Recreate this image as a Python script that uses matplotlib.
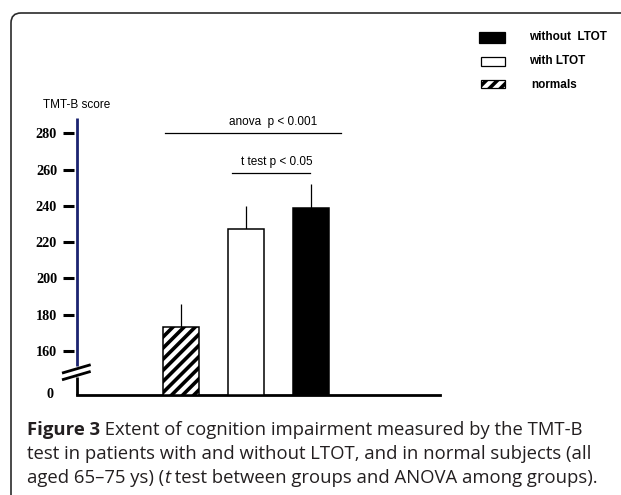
import matplotlib
matplotlib.use("Agg")
import matplotlib.pyplot as plt
from matplotlib.patches import Rectangle, FancyBboxPatch
from matplotlib.transforms import ScaledTranslation

W, H = 621, 495
DPI = 100

# --- data -------------------------------------------------------------
groups = ["normals", "with LTOT", "without LTOT"]
means = [173, 227, 239]
sd_up = [13, 13, 13]
bar_faces = ["white", "white", "black"]
bar_hatches = ["///", None, None]

yticks = [160, 180, 200, 220, 240, 260, 280]
y_low, y_high = 135.6, 288.5      # visible part of the broken axis
break_low, break_high = 145.5, 151.5

anova_label = "anova  p < 0.001"
anova_level = 280.3
ttest_label = "t test p < 0.05"
ttest_level = 258.2

legend_order = ["without  LTOT", "with LTOT", "normals"]

caption_lines = [
    [("Figure 3", "bold", "normal"),
     (" Extent of cognition impairment measured by the TMT-B", "normal", "normal")],
    [("test in patients with and without LTOT, and in normal subjects (all", "normal", "normal")],
    [("aged 65\u201375 ys) (", "normal", "normal"), ("t", "normal", "italic"),
     (" test between groups and ANOVA among groups).", "normal", "normal")],
]

# --- helpers ----------------------------------------------------------
def fx(px):
    return px / W

def fy(py):
    return 1 - py / H

plt.rcParams["hatch.linewidth"] = 2.6
plt.rcParams["hatch.color"] = "black"

fig = plt.figure(figsize=(W / DPI, H / DPI), dpi=DPI)
fig.patch.set_facecolor("white")

# rounded frame around the panel
frame = FancyBboxPatch((fx(11), fy(H + 20)), fx(W + 40 - 11), fy(13) - fy(H + 20),
                       boxstyle="round,pad=0,rounding_size=0.016",
                       transform=fig.transFigure, fill=False,
                       edgecolor="#2b2b2b", linewidth=1.2, mutation_aspect=W / H)
fig.add_artist(frame)

# --- axes -------------------------------------------------------------
ax_l, ax_r, ax_b, ax_t = 74, 440, 395, 118
ax = fig.add_axes([fx(ax_l), fy(ax_b), fx(ax_r - ax_l), fy(ax_t) - fy(ax_b)])
ax.set_facecolor("none")

px_per_unit = 65.0
x_center0 = 181
xmin = (ax_l - x_center0) / px_per_unit
xmax = (ax_r - x_center0) / px_per_unit
ax.set_xlim(xmin, xmax)
ax.set_ylim(y_low, y_high)
spine_x = (77 - x_center0) / px_per_unit

xpos = list(range(len(groups)))
for i in xpos:
    ax.bar(xpos[i], means[i] - y_low, bottom=y_low, width=0.555,
           facecolor=bar_faces[i], edgecolor="black", linewidth=1.1,
           hatch=bar_hatches[i], zorder=3)
ax.errorbar(xpos, means, yerr=[[0] * len(means), sd_up], fmt="none",
            ecolor="black", elinewidth=0.9, capsize=0, zorder=2)

# axis lines: blue upper part, black lower part after the break
ax.plot([spine_x, spine_x], [break_high, y_high], color="#1b2370", lw=2.0,
        clip_on=False, solid_capstyle="butt", zorder=4)
ax.plot([spine_x, spine_x], [y_low, break_low], color="black", lw=2.0,
        clip_on=False, solid_capstyle="butt", zorder=4)
for dy in (0.0, -3.7):
    ax.plot([spine_x - 0.21, spine_x + 0.19], [147.9 + dy, 152.1 + dy],
            color="black", lw=2.0, clip_on=False, zorder=5)

for s in ("left", "top", "right"):
    ax.spines[s].set_visible(False)
ax.spines["bottom"].set_bounds(spine_x, xmax)
ax.spines["bottom"].set_linewidth(2.0)
ax.set_xticks([])

ax.set_yticks([y_low] + yticks)
ax.set_yticklabels(["0"] + [str(v) for v in yticks],
                   fontfamily="Liberation Serif", fontweight="bold", fontsize=10.2)
ax.tick_params(axis="y", length=8.2, width=2.2, pad=4, color="black")
zero_tick = ax.yaxis.get_major_ticks()[0]
zero_tick.tick1line.set_visible(False)
zero_tick.label1.set_transform(zero_tick.label1.get_transform()
                               + ScaledTranslation(-0.04, 0.02, fig.dpi_scale_trans))

# significance brackets
ax.plot([-0.246, 2.46], [anova_level, anova_level], color="black", lw=0.9, clip_on=False)
ax.text(1.42, anova_level + 2.6, anova_label, ha="center", va="bottom",
        fontfamily="Liberation Sans", fontsize=8.5)
ax.plot([0.785, 1.985], [ttest_level, ttest_level], color="black", lw=0.9, clip_on=False)
ax.text(1.48, ttest_level + 2.6, ttest_label, ha="center", va="bottom",
        fontfamily="Liberation Sans", fontsize=8.5)

fig.text(fx(76.5), fy(105), "TMT-B score", ha="center", va="center",
         fontfamily="Liberation Sans", fontsize=8.5)

# --- legend -----------------------------------------------------------
leg_rows = [  # (left, top, right, bottom) in px, face, hatch
    ((479, 32, 505, 43), "black", None),
    ((481, 57, 505, 66), "white", None),
    ((481, 80, 505, 88), "white", "///"),
]
leg_text_y = [37.5, 61.5, 85.5]
leg_text_x = [529, 529, 531]
for (box, face, hatch), label, ty, tx in zip(leg_rows, legend_order, leg_text_y, leg_text_x):
    l, t, r, b = box
    fig.add_artist(Rectangle((fx(l), fy(b)), fx(r - l), fy(t) - fy(b),
                             transform=fig.transFigure, facecolor=face,
                             edgecolor="black", linewidth=0.9, hatch=hatch))
    fig.text(fx(tx), fy(ty), label, ha="left", va="center",
             fontfamily="Liberation Sans", fontweight="bold", fontsize=8.5)

# --- caption ----------------------------------------------------------
renderer = fig.canvas.get_renderer()
baselines = [435, 459, 483]
for runs, base in zip(caption_lines, baselines):
    x = 27
    for text, weight, style in runs:
        t = fig.text(fx(x), fy(base), text, ha="left", va="baseline",
                     fontfamily="Open Sans", fontweight=weight, fontstyle=style,
                     fontsize=13.3, color="#231f20")
        bb = t.get_window_extent(renderer=renderer)
        x += bb.width

fig.savefig("out.png", dpi=DPI)
